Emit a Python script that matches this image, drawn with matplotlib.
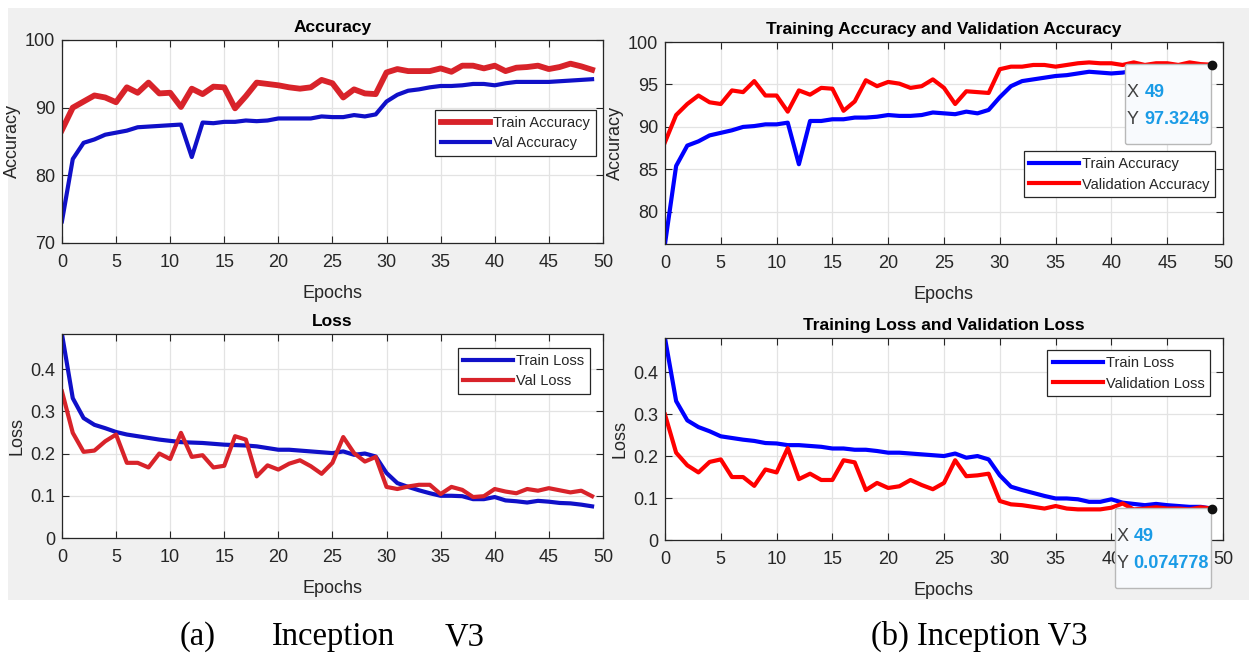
import numpy as np
import matplotlib.pyplot as plt
from matplotlib.patches import Rectangle
from matplotlib.offsetbox import (TextArea, HPacker, VPacker, DrawingArea,
                                  AnnotationBbox)

plt.rcParams['font.family'] = ['Liberation Sans', 'DejaVu Sans']

epochs = np.arange(50)

# (a) Inception V3, left screenshot
a_train_acc = [86.7, 90.0, 90.9, 91.8, 91.5, 90.8, 93.0, 92.2, 93.7, 92.1,
               92.2, 90.1, 92.8, 92.0, 93.1, 93.0, 89.9, 91.7, 93.7, 93.5,
               93.3, 93.0, 92.8, 93.0, 94.1, 93.6, 91.5, 92.7, 92.1, 92.0,
               95.2, 95.7, 95.4, 95.4, 95.4, 95.8, 95.3, 96.2, 96.2, 95.8,
               96.2, 95.4, 95.9, 96.0, 96.2, 95.7, 96.0, 96.5, 96.1, 95.6]
a_val_acc = [73.2, 82.4, 84.8, 85.3, 86.0, 86.3, 86.6, 87.1, 87.2, 87.3,
             87.4, 87.5, 82.7, 87.8, 87.7, 87.9, 87.9, 88.1, 88.0, 88.1,
             88.4, 88.4, 88.4, 88.4, 88.7, 88.6, 88.6, 88.9, 88.7, 89.0,
             90.9, 91.9, 92.5, 92.7, 93.0, 93.2, 93.2, 93.3, 93.5, 93.5,
             93.3, 93.6, 93.8, 93.8, 93.8, 93.8, 93.9, 94.0, 94.1, 94.2]
a_train_loss = [0.483, 0.331, 0.284, 0.268, 0.260, 0.251, 0.245, 0.241,
                0.237, 0.233, 0.230, 0.227, 0.226, 0.225, 0.223, 0.221,
                0.220, 0.219, 0.217, 0.213, 0.209, 0.209, 0.207, 0.205,
                0.203, 0.201, 0.205, 0.197, 0.200, 0.193, 0.154, 0.130,
                0.121, 0.113, 0.106, 0.100, 0.100, 0.099, 0.092, 0.092,
                0.097, 0.089, 0.087, 0.084, 0.088, 0.086, 0.083, 0.082,
                0.079, 0.075]
a_val_loss = [0.347, 0.249, 0.204, 0.207, 0.229, 0.245, 0.178, 0.178,
              0.167, 0.200, 0.187, 0.249, 0.192, 0.196, 0.167, 0.171,
              0.241, 0.233, 0.146, 0.172, 0.162, 0.176, 0.184, 0.170,
              0.152, 0.178, 0.239, 0.201, 0.181, 0.192, 0.121, 0.116,
              0.122, 0.126, 0.126, 0.104, 0.121, 0.114, 0.097, 0.099,
              0.116, 0.110, 0.106, 0.116, 0.112, 0.118, 0.113, 0.108,
              0.112, 0.099]

# (b) Inception V3, right screenshot
b_train_acc = [76.2, 85.4, 87.8, 88.3, 89.0, 89.3, 89.6, 90.0, 90.1, 90.3,
               90.3, 90.5, 85.6, 90.7, 90.7, 90.9, 90.9, 91.1, 91.1, 91.2,
               91.4, 91.3, 91.3, 91.4, 91.7, 91.6, 91.5, 91.8, 91.6, 92.0,
               93.5, 94.8, 95.4, 95.6, 95.8, 96.0, 96.1, 96.3, 96.5, 96.4,
               96.3, 96.4, 96.6, 96.6, 96.7, 96.8, 96.8, 96.9, 97.0, 97.0]
b_val_acc = [88.2, 91.4, 92.7, 93.7, 92.9, 92.7, 94.3, 94.1, 95.4, 93.7,
             93.7, 91.8, 94.3, 93.8, 94.6, 94.5, 91.9, 93.0, 95.5, 94.8,
             95.3, 95.1, 94.6, 94.8, 95.6, 94.6, 92.7, 94.2, 94.1, 94.0,
             96.8, 97.1, 97.1, 97.3, 97.3, 97.1, 97.3, 97.5, 97.6, 97.5,
             97.5, 97.3, 97.6, 97.3, 97.5, 97.5, 97.3, 97.6, 97.4, 97.3249]
b_train_loss = [0.481, 0.331, 0.285, 0.269, 0.259, 0.247, 0.243, 0.239,
                0.236, 0.231, 0.230, 0.226, 0.226, 0.224, 0.222, 0.218,
                0.218, 0.215, 0.215, 0.212, 0.208, 0.208, 0.206, 0.204,
                0.202, 0.200, 0.206, 0.196, 0.200, 0.192, 0.154, 0.127,
                0.119, 0.112, 0.105, 0.099, 0.099, 0.097, 0.091, 0.091,
                0.097, 0.089, 0.086, 0.083, 0.086, 0.083, 0.081, 0.079,
                0.079, 0.075]
b_val_loss = [0.299, 0.208, 0.178, 0.161, 0.186, 0.192, 0.150, 0.150,
              0.129, 0.168, 0.161, 0.219, 0.145, 0.158, 0.143, 0.143,
              0.190, 0.185, 0.119, 0.136, 0.124, 0.128, 0.143, 0.131,
              0.121, 0.136, 0.190, 0.152, 0.154, 0.158, 0.093, 0.085,
              0.083, 0.079, 0.075, 0.081, 0.075, 0.073, 0.073, 0.073,
              0.077, 0.087, 0.073, 0.075, 0.078, 0.075, 0.075, 0.073,
              0.078, 0.074778]

xticks = [0, 5, 10, 15, 20, 25, 30, 35, 40, 45, 50]
acc_ticks_a = [70, 80, 90, 100]
acc_ticks_b = [80, 85, 90, 95, 100]
loss_ticks = [0, 0.1, 0.2, 0.3, 0.4]

TXT = '#262626'


def style_axes(ax, title, ylabel, ylim, yticks):
    """
    MATLAB-like look: boxed axes, inward ticks on every side, light grid
    """
    ax.set_facecolor('white')
    ax.set_xlim(0, 50)
    ax.set_ylim(*ylim)
    ax.set_xticks(xticks)
    ax.set_yticks(yticks)
    ax.set_yticklabels([('%g' % t) for t in yticks])
    ax.grid(True, color='#e3e3e3', linewidth=0.9)
    ax.set_axisbelow(True)
    ax.tick_params(direction='in', length=5, width=0.8, top=True,
                   right=True, labelsize=13, colors=TXT)
    ax.tick_params(axis='x', pad=8)
    ax.tick_params(axis='y', pad=5)
    for s in ax.spines.values():
        s.set_color(TXT)
        s.set_linewidth(0.9)
    ax.set_title(title, fontsize=12.5, fontweight='bold', color='black',
                 pad=6)
    ax.set_xlabel('Epochs', fontsize=13, color=TXT, labelpad=10)
    ax.set_ylabel(ylabel, fontsize=13, color=TXT, labelpad=3)


def add_legend(ax, anchor):
    leg = ax.legend(loc='upper right', bbox_to_anchor=anchor,
                    fontsize=10.5, fancybox=False, framealpha=1,
                    edgecolor=TXT, handlelength=3.4, handletextpad=0.2,
                    borderpad=0.4, labelspacing=0.45, borderaxespad=0)
    leg.get_frame().set_linewidth(0.9)
    for t in leg.get_texts():
        t.set_color(TXT)


def add_datatip(ax, x, y, ytext):
    """
    draws a MATLAB style datatip whose top right corner sits on the point
    """
    rows = [DrawingArea(0, 6)]
    for name, val in [('X ', str(x)), ('Y ', ytext)]:
        rows.append(HPacker(children=[
            TextArea(name, textprops=dict(color='#404040', fontsize=13)),
            TextArea(val, textprops=dict(color='#1a9be6', fontsize=13,
                                         fontweight='bold'))],
            align='baseline', pad=0, sep=0))
    rows.append(DrawingArea(0, 3))
    box = VPacker(children=rows, align='left', pad=0, sep=7)
    ab = AnnotationBbox(box, (x, y), xybox=(-2, -1),
                        boxcoords='offset points', box_alignment=(1, 1),
                        frameon=True, pad=0.62, annotation_clip=False,
                        bboxprops=dict(boxstyle='round,pad=0.15',
                                       fc='#f8fafd', ec='#b8b8b8',
                                       lw=1.0))
    ab.set_zorder(10)
    ax.add_artist(ab)
    ax.plot([x], [y], 'o', color='#111111', markersize=6, zorder=11,
            clip_on=False)


fig = plt.figure(figsize=(12.49, 6.53), dpi=100, facecolor='white')
# gray window background of the screenshots, kept behind the axes
bg = Rectangle((8 / 1249, 1 - 600 / 653), 1.0, 592 / 653,
               transform=fig.transFigure, facecolor='#f0f0f0',
               edgecolor='none', zorder=-10)
fig.add_artist(bg)

ax1 = fig.add_axes([0.0496, 0.6279, 0.4331, 0.3109])
ax2 = fig.add_axes([0.0496, 0.1761, 0.4331, 0.3124])
ax3 = fig.add_axes([0.5324, 0.6263, 0.4468, 0.3093])
ax4 = fig.add_axes([0.5324, 0.1730, 0.4468, 0.3093])

# left: Accuracy
ax1.plot(epochs, a_train_acc, color='#d8232a', lw=4.2,
         label='Train Accuracy')
ax1.plot(epochs, a_val_acc, color='#1010c8', lw=3, label='Val Accuracy')
style_axes(ax1, 'Accuracy', 'Accuracy', (70, 100), acc_ticks_a)
add_legend(ax1, (0.987, 0.655))

# left: Loss
ax2.plot(epochs, a_train_loss, color='#1010c8', lw=3, label='Train Loss')
ax2.plot(epochs, a_val_loss, color='#d8232a', lw=3, label='Val Loss')
style_axes(ax2, 'Loss', 'Loss', (0, 0.483), loss_ticks)
add_legend(ax2, (0.976, 0.931))

# right: Accuracy
ax3.plot(epochs, b_train_acc, color='#0000ff', lw=3,
         label='Train Accuracy')
ax3.plot(epochs, b_val_acc, color='#ff0000', lw=3,
         label='Validation Accuracy')
style_axes(ax3, 'Training Accuracy and Validation Accuracy', 'Accuracy',
           (76.2, 100), acc_ticks_b)
add_legend(ax3, (0.986, 0.46))
add_datatip(ax3, 49, b_val_acc[-1], '97.3249')

# right: Loss
ax4.plot(epochs, b_train_loss, color='#0000ff', lw=3, label='Train Loss')
ax4.plot(epochs, b_val_loss, color='#ff0000', lw=3,
         label='Validation Loss')
style_axes(ax4, 'Training Loss and Validation Loss', 'Loss',
           (0, 0.481), loss_ticks)
add_legend(ax4, (0.977, 0.94))
add_datatip(ax4, 49, b_val_loss[-1], '0.074778')

# captions under the two screenshots
cap = dict(fontsize=23.5, family='Liberation Serif', color='black',
           va='baseline', ha='center')
fig.text(198 / 1249, 1 - 645 / 653, '(a)', **cap)
fig.text(333 / 1249, 1 - 645 / 653, 'Inception', **cap)
fig.text(465 / 1249, 1 - 645 / 653, 'V3', **cap)
fig.text(979 / 1249, 1 - 645 / 653, '(b) Inception V3', **cap)

fig.savefig('out.png', dpi=100, facecolor='white')
